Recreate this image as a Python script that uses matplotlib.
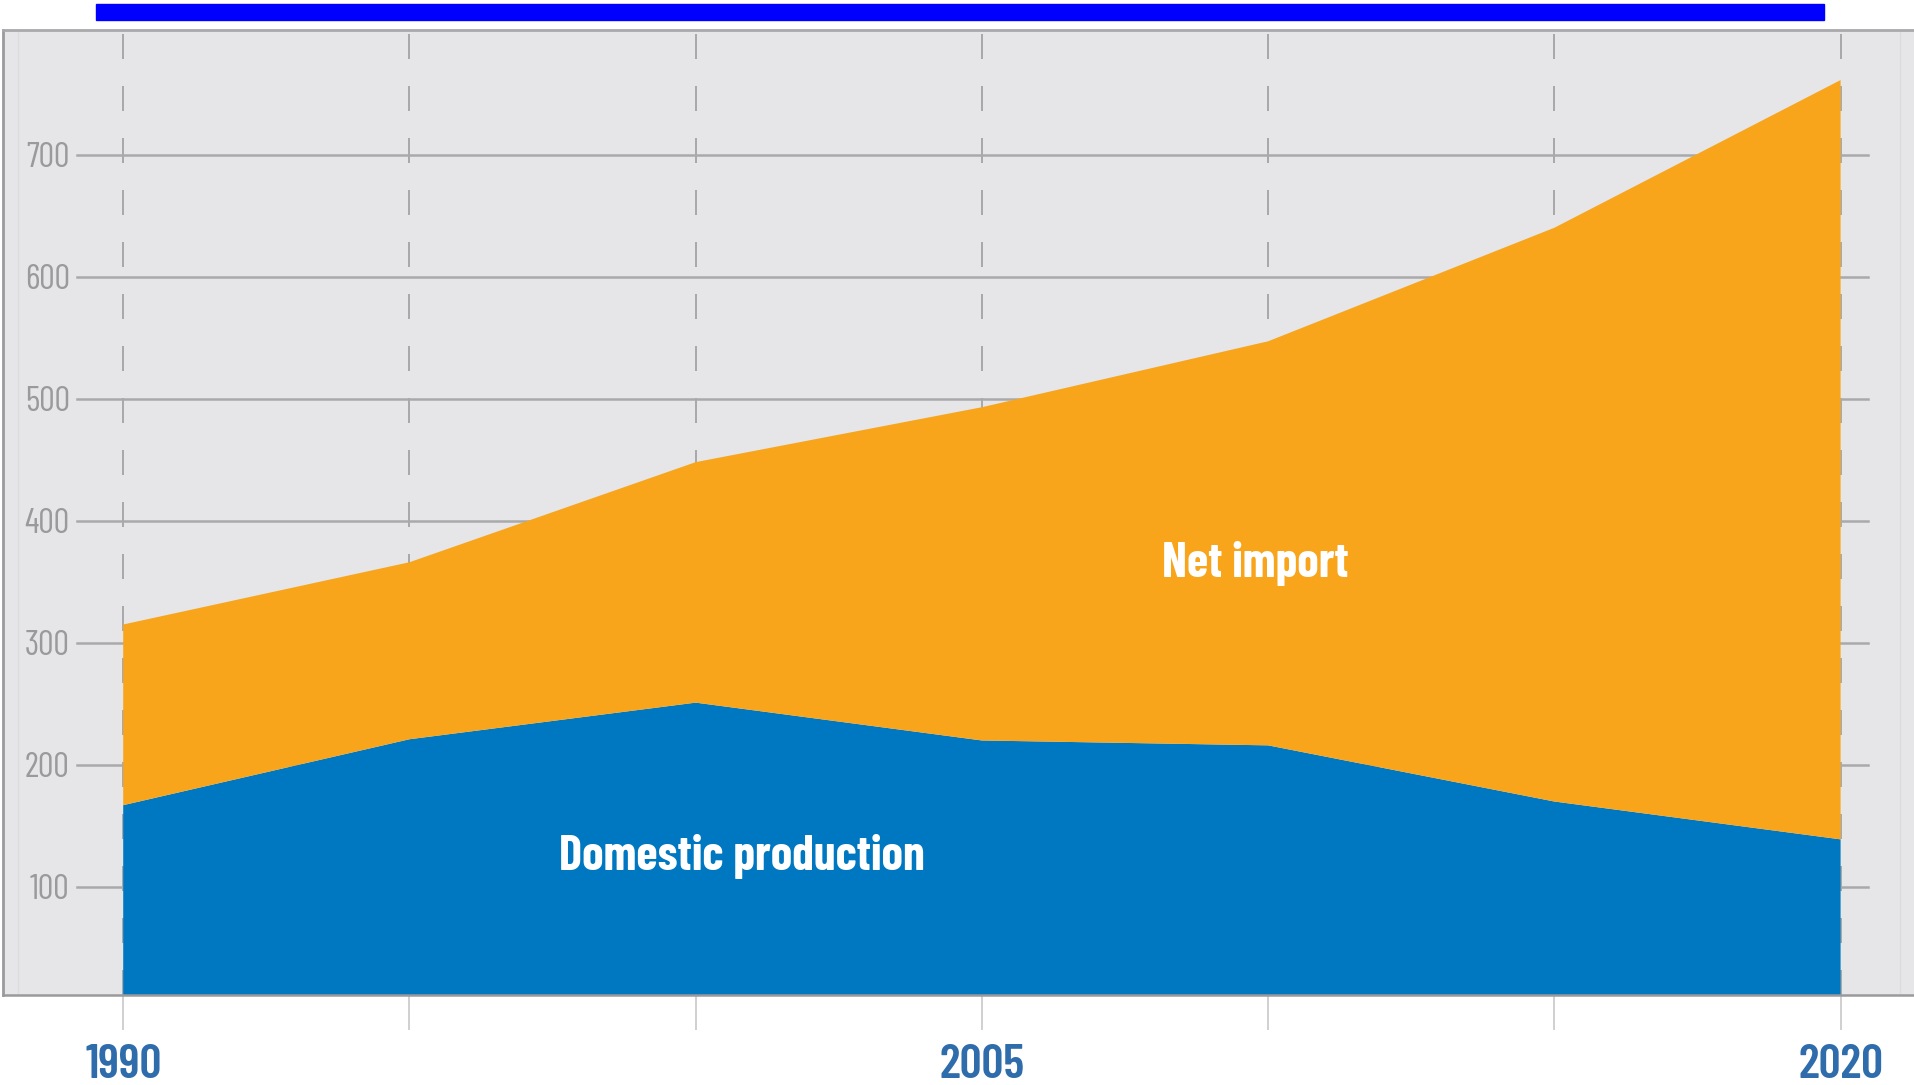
import numpy as np
import matplotlib
matplotlib.use("Agg")
import matplotlib.pyplot as plt
from matplotlib.patches import Rectangle

# data (million tonnes, roughly)
years = [1990, 1995, 2000, 2005, 2010, 2015, 2020]
domestic = [167, 221, 251, 220, 216, 170, 139]
total = [315, 366, 448, 493, 547, 640, 761]
net_import = [t - d for t, d in zip(total, domestic)]

y_ticks = [100, 200, 300, 400, 500, 600, 700]
x_labels = {1990: "1990", 2005: "2005", 2020: "2020"}

BLUE = "#0078c1"
ORANGE = "#f8a51b"
BG = "#e6e6e8"
GRID = "#a9a9ab"

plt.rcParams['font.family'] = ['Barlow Condensed', 'DejaVu Sans']
plt.rcParams['font.stretch'] = 'condensed'

W, H = 1915, 1085
fig = plt.figure(figsize=(W / 100, H / 100), dpi=100)
fig.patch.set_facecolor("white")

# axes box in pixels: left 3, right 1915, top 30, bottom 995
ax = fig.add_axes([3 / W, 90 / H, (W - 3) / W, 965 / H])
ax.set_facecolor(BG)
ax.set_xlim(1987.9, 2021.3)
ax.set_ylim(11.5, 802)

# horizontal grid lines, not across the full width
for v in y_ticks:
    ax.plot([0.0387, 0.9754], [v, v], transform=ax.get_yaxis_transform(),
            color=GRID, lw=1.8, zorder=1)

# dashed vertical lines every 5 years
lw = 2.0 * 0.72
for yr in years:
    ax.axvline(yr, color=GRID, lw=lw, dashes=(25 * 0.72 / lw, 27 * 0.72 / lw),
               zorder=1)

# faint inner frame lines
ax.plot([0.992, 0.992], [0, 1], transform=ax.transAxes, color="#dcdcde", lw=1.0, zorder=0.5)
ax.plot([0.008, 0.008], [0, 1], transform=ax.transAxes, color="#dcdcde", lw=1.0, zorder=0.5)

ax.stackplot(years, domestic, net_import, colors=[BLUE, ORANGE],
             linewidth=0, zorder=2)

ax.text(2000.81, 125, "Domestic production", color="white", fontsize=35,
        fontweight="bold", ha="center", va="center", zorder=3)
ax.text(2009.77, 365, "Net import", color="white", fontsize=35,
        fontweight="bold", ha="center", va="center", zorder=3)

# y tick labels sit inside the plot
ax.set_yticks(y_ticks)
ax.set_yticklabels([str(v) for v in y_ticks])
ax.tick_params(axis="y", length=0, pad=-48, labelsize=25, labelcolor="#9a9a9c")

ax.set_xticks(years)
ax.set_xticklabels([x_labels.get(y, "") for y in years])
ax.tick_params(axis="x", direction="out", length=25, width=1.2, color="#c8c8ca",
               pad=10, labelsize=35, labelcolor="#2f6cab")
for lab in ax.get_xticklabels():
    lab.set_fontweight("semibold")

ax.spines["right"].set_visible(False)
ax.spines["top"].set_color("#a9a9ab")
ax.spines["top"].set_linewidth(2.0)
ax.spines["left"].set_color("#9a9a9c")
ax.spines["left"].set_linewidth(2.0)
ax.spines["bottom"].set_color("#9a9a9c")
ax.spines["bottom"].set_linewidth(1.8)

# blue bar at the top of the picture
fig.patches.append(Rectangle((96 / W, 1 - 20 / H), (1824 - 96) / W, 16 / H,
                             transform=fig.transFigure, color="#0000ff"))

fig.savefig("out.png", dpi=100, facecolor="white")
